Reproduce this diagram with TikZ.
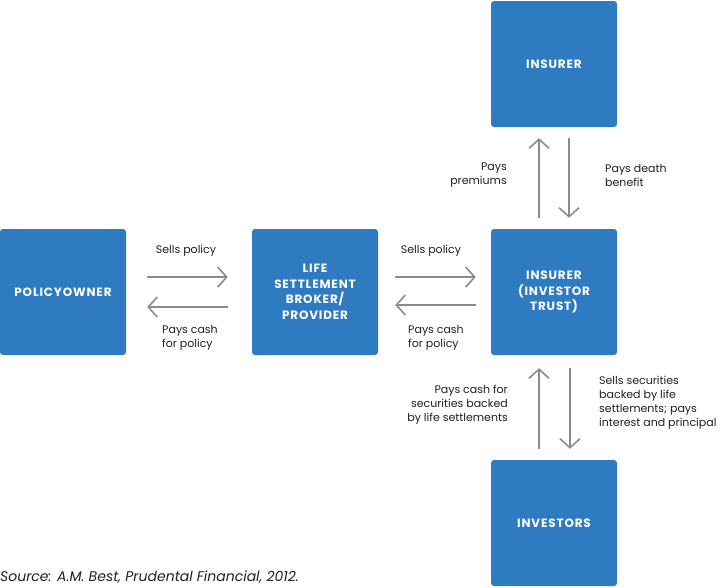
\documentclass[tikz,border=0pt]{standalone}
\usepackage{fontspec}
\setmainfont{Poppins}
\usetikzlibrary{arrows.meta}
\definecolor{boxblue}{HTML}{2E7BC1}
\definecolor{arrgray}{HTML}{8C8C8C}
\definecolor{txt}{HTML}{231F20}
\tikzset{
  box/.style={draw=none,fill=boxblue,rounded corners=3pt,minimum width=126pt,minimum height=126pt,
    text=white,align=center,font=\fontsize{12}{15.5}\selectfont\bfseries\addfontfeatures{LetterSpace=7}},
  arr/.style={draw=arrgray,line width=1.8pt,-{Straight Barb[length=9pt,width=20pt,line width=1.6pt]}},
  lab/.style={text=txt,font=\fontsize{11}{14}\selectfont,inner sep=0pt}
}
\begin{document}
\begin{tikzpicture}[x=1pt,y=-1pt]
\useasboundingbox (0,0) rectangle (723,587);
\node[box] (ins) at (554,64) {INSURER};
\node[box] (po) at (63,292) {POLICYOWNER};
\node[box] (lsb) at (315,292) {LIFE\\SETTLEMENT\\BROKER/\\PROVIDER};
\node[box] (trust) at (554,292) {INSURER\\(INVESTOR\\TRUST)};
\node[box] (inv) at (554,523) {INVESTORS};
% horizontal arrows
\draw[arr,shorten <=21pt,shorten >=24pt] ([yshift=15pt]po.east) -- ([yshift=15pt]lsb.west);
\draw[arr,shorten <=24pt,shorten >=21pt] ([yshift=-15pt]lsb.west) -- ([yshift=-15pt]po.east);
\draw[arr,shorten <=17pt,shorten >=15pt] ([yshift=15pt]lsb.east) -- ([yshift=15pt]trust.west);
\draw[arr,shorten <=15pt,shorten >=17pt] ([yshift=-13pt]trust.west) -- ([yshift=-13pt]lsb.east);
% vertical top
\draw[arr,shorten <=11pt,shorten >=11pt] ([xshift=-15pt]trust.north) -- ([xshift=-15pt]ins.south);
\draw[arr,shorten <=11pt,shorten >=11pt] ([xshift=15pt]ins.south) -- ([xshift=15pt]trust.north);
% vertical bottom
\draw[arr,shorten <=11pt,shorten >=13pt] ([xshift=-15pt]inv.north) -- ([xshift=-15pt]trust.south);
\draw[arr,shorten <=13pt,shorten >=11pt] ([xshift=16pt]trust.south) -- ([xshift=16pt]inv.north);
% labels
\node[lab] (l1) at (186,251) {Sells policy};
\node[lab,align=left,anchor=west] (l2) at (162,338) {Pays cash\\for policy};
\node[lab] (l3) at (431,251) {Sells policy};
\node[lab,align=left,anchor=west] (l4) at (408,338) {Pays cash\\for policy};
\node[lab,align=right,anchor=east] (l5) at (507,175) {Pays\\premiums};
\node[lab,align=left,anchor=west] (l6) at (605,175) {Pays death\\benefit};
\node[lab,align=right,anchor=east] (l7) at (508,405) {Pays cash for\\securities backed\\by life settlements};
\node[lab,align=left,anchor=west] (l8) at (599,403) {Sells securities\\backed by life\\settlements; pays\\interest and principal};
\node[lab,anchor=base west,font=\fontsize{14}{15}\selectfont\itshape] (src) at (0,581) {Source: A.M. Best, Prudental Financial, 2012.};
\end{tikzpicture}
\end{document}
